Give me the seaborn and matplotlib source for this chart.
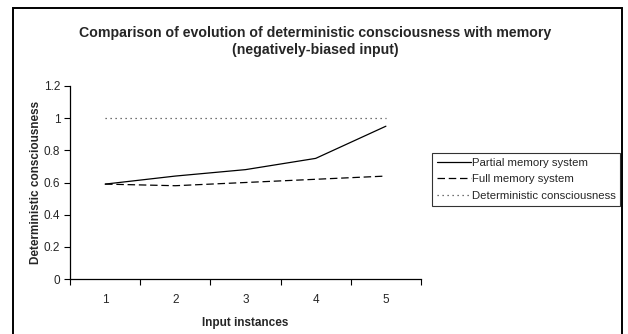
import matplotlib
matplotlib.use("Agg")
import matplotlib.pyplot as plt
from matplotlib.patches import Rectangle
from matplotlib.ticker import FixedLocator, NullFormatter
import seaborn as sns
import pandas as pd

instances = [1, 2, 3, 4, 5]
partial_memory = [0.59, 0.64, 0.68, 0.75, 0.95]
full_memory = [0.59, 0.58, 0.60, 0.62, 0.64]
deterministic = [1, 1, 1, 1, 1]
series_names = ["Partial memory system", "Full memory system", "Deterministic consciousness"]
y_ticks = [0, 0.2, 0.4, 0.6, 0.8, 1, 1.2]

df = pd.DataFrame({
    "instance": instances * 3,
    "value": partial_memory + full_memory + deterministic,
    "series": [series_names[0]] * 5 + [series_names[1]] * 5 + [series_names[2]] * 5,
})

sns.set_theme(style="white")
plt.rcParams["font.family"] = ["Liberation Sans", "DejaVu Sans"]

fig = plt.figure(figsize=(6.28, 3.34), dpi=100)
ax = fig.add_axes([70 / 628, 1 - 279 / 334, 351 / 628, 193 / 334])

palette = {series_names[0]: "black", series_names[1]: "black", series_names[2]: "#444444"}
dashes = {series_names[0]: "", series_names[1]: (6, 3), series_names[2]: (1, 3)}
sns.lineplot(data=df, x="instance", y="value", hue="series", style="series",
             palette=palette, dashes=dashes, linewidth=0.9, ax=ax, legend=True)

handles, labels = ax.get_legend_handles_labels()
ax.get_legend().remove()

ax.set_xlim(0.5, 5.5)
ax.set_ylim(0, 1.2)
ax.set_yticks(y_ticks)
ax.set_yticklabels([f"{t:g}" for t in y_ticks], fontsize=8.5)
# category axis: tick marks between categories, labels centred on them
ax.xaxis.set_major_locator(FixedLocator([0.5, 1.5, 2.5, 3.5, 4.5, 5.5]))
ax.xaxis.set_major_formatter(NullFormatter())
ax.xaxis.set_minor_locator(FixedLocator(instances))
ax.set_xticklabels([str(i) for i in instances], minor=True, fontsize=8.5)
ax.tick_params(axis="x", which="major", direction="out", length=4, width=0.8, color="black", bottom=True)
ax.tick_params(axis="x", which="minor", length=0, pad=11)
ax.tick_params(axis="y", direction="out", length=4, width=0.8, color="black", left=True, pad=3)

for side in ["top", "right"]:
    ax.spines[side].set_visible(False)
for side in ["left", "bottom"]:
    ax.spines[side].set_color("black")
    ax.spines[side].set_linewidth(0.9)

ax.set_xlabel("Input instances", fontsize=8.5, fontweight="bold", labelpad=8)
ax.set_ylabel("Deterministic consciousness", fontsize=8.5, fontweight="bold", labelpad=1)

fig.text(315 / 628, 1 - 33 / 334, "Comparison of evolution of deterministic consciousness with memory",
         ha="center", va="center", fontsize=10.2, fontweight="bold")
fig.text(315 / 628, 1 - 50 / 334, "(negatively-biased input)",
         ha="center", va="center", fontsize=10.2, fontweight="bold")

leg = fig.legend(handles, labels, loc="upper left", bbox_to_anchor=(432 / 628, 1 - 153 / 334),
                 fontsize=8.2, frameon=True, fancybox=False, handlelength=3.0, handletextpad=0.1,
                 borderpad=0.4, labelspacing=0.6, borderaxespad=0)
leg.get_frame().set_edgecolor("black")
leg.get_frame().set_linewidth(0.8)

fig.patches.append(Rectangle((13 / 628, -0.1), 609 / 628, 1.1 - 8 / 334, transform=fig.transFigure,
                             fill=False, edgecolor="black", linewidth=1.4))

fig.savefig("out.png", dpi=100)
